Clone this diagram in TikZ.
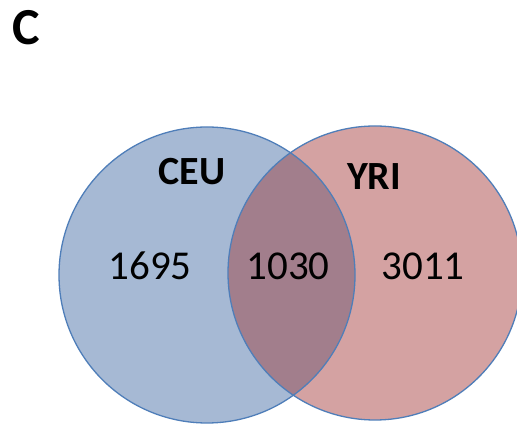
\documentclass[tikz,border=0pt]{standalone}
\usepackage{fontspec}
\setmainfont{Carlito}
\definecolor{cblue}{RGB}{166,185,212}
\definecolor{cpink}{RGB}{212,162,162}
\definecolor{cmix}{RGB}{162,126,140}
\definecolor{cedge}{RGB}{79,126,185}
\begin{document}
\begin{tikzpicture}[x=1pt,y=1pt,
  num/.style={anchor=base,font=\fontsize{41}{41}\selectfont,text=black,inner sep=0pt},
  lab/.style={anchor=base,font=\fontsize{40}{40}\selectfont\bfseries,text=black,inner sep=0pt}]
\useasboundingbox (0,0) rectangle (517,428);
\fill[white] (0,0) rectangle (517,428);
\coordinate (cl) at (207,153);
\coordinate (cr) at (375,155);
\fill[cblue] (cl) circle (148);
\fill[cpink] (cr) circle (147);
\begin{scope}
  \clip (cl) circle (148);
  \fill[cmix] (cr) circle (147);
\end{scope}
\draw[cedge,line width=1.3pt] (cl) circle (148);
\draw[cedge,line width=1.3pt] (cr) circle (147);
\node[lab] (ceu) at (192,243) {CEU};
\node[lab] (yri) at (374,238) {YRI};
\node[num] (a) at (150,148) {1695};
\node[num] (b) at (288,148) {1030};
\node[num] (c) at (423,148) {3011};
\node[anchor=base,inner sep=0pt,font=\fontsize{52}{52}\selectfont\bfseries] (t) at (26,383) {C};
\end{tikzpicture}
\end{document}
